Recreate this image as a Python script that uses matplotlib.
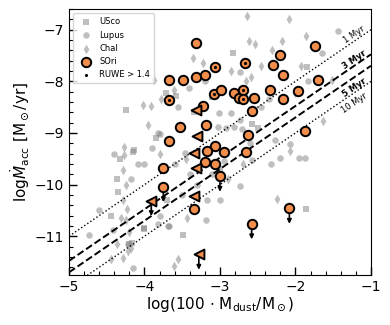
import numpy as np
import matplotlib
matplotlib.use('Agg')
import matplotlib.pyplot as plt
from matplotlib.ticker import MultipleLocator

# --- comparison samples (grey) ---
usco_x = [-2.83, -1.84, -2.57, -1.86, -3.71, -3.58, -4.24, -4.14, -4.32, -4.35, -4.15, -4.37,
          -4.00, -3.49, -4.17, -4.01, -4.20, -3.35, -3.10, -2.50, -3.85, -3.00, -3.70, -4.45]
usco_y = [-7.45, -7.73, -8.82, -10.48, -8.22, -8.29, -8.55, -9.33, -9.51, -10.15, -9.36, -9.90,
          -10.84, -10.97, -11.13, -10.86, -11.15, -8.60, -8.30, -8.90, -9.10, -9.70, -10.30, -10.60]

lupus_x = [-1.43, -1.65, -2.74, -1.83, -2.82, -2.71, -3.03, -2.27, -2.07, -2.73, -2.32, -2.20,
           -1.95, -1.87, -2.57, -3.17, -3.19, -3.41, -3.82, -4.09, -4.00, -4.18, -3.80, -3.46,
           -3.01, -2.86, -2.73, -2.92, -4.74, -4.42, -4.15, -4.22, -3.69, -3.82, -3.67, -3.80,
           -3.60, -3.40, -3.50, -3.30, -3.90, -2.95, -2.60, -2.45, -3.20, -2.35, -3.10, -3.00,
           -4.40, -4.60, -3.55]
lupus_y = [-7.03, -7.45, -7.82, -8.00, -8.89, -8.93, -8.89, -9.13, -9.22, -10.03, -9.61, -9.49,
           -9.49, -9.48, -9.53, -10.29, -10.69, -8.13, -9.00, -9.61, -9.61, -9.90, -9.02, -9.38,
           -8.61, -8.61, -8.74, -8.90, -10.98, -10.87, -11.61, -11.15, -10.80, -10.77, -10.80, -10.60,
           -9.60, -9.80, -10.20, -10.00, -9.30, -9.55, -9.20, -8.50, -8.00, -8.35, -9.80, -10.30,
           -9.40, -10.50, -8.50]

chai_x = [-2.64, -2.08, -1.86, -2.62, -2.54, -2.18, -2.31, -3.22, -2.85, -2.45, -1.93, -2.59,
          -2.66, -3.03, -2.01, -1.52, -1.64, -3.36, -3.87, -3.61, -3.78, -3.91, -4.02, -3.95,
          -2.07, -2.24, -4.27, -4.27, -4.29, -4.24, -4.28, -4.23, -4.31, -4.20, -4.37, -4.44,
          -4.28, -4.22, -3.56, -4.24, -3.44, -3.61, -4.18, -2.70, -2.90, -3.45, -3.80]
chai_y = [-6.74, -6.79, -7.13, -7.21, -7.28, -7.21, -7.40, -7.64, -7.79, -7.71, -7.71, -7.91,
          -8.00, -8.16, -8.22, -7.97, -8.77, -7.55, -7.97, -8.16, -8.35, -8.47, -8.45, -8.84,
          -9.35, -10.27, -9.28, -9.42, -9.71, -10.00, -10.29, -10.48, -10.64, -10.91, -11.16, -11.45,
          -11.42, -11.29, -11.45, -10.68, -10.64, -11.58, -11.22, -9.60, -9.90, -9.50, -9.40]

# --- SOri detections ---
sori_x = [-3.32, -3.07, -2.67, -3.68, -3.49, -3.32, -3.20, -3.68, -3.08, -2.98, -2.82, -2.75,
          -2.69, -2.69, -2.55, -3.23, -2.21, -2.30, -1.74, -2.17, -1.70, -2.34, -1.96, -2.17,
          -2.57, -1.87, -2.63, -3.19, -3.53, -3.68, -3.06, -3.17, -2.95, -2.66, -3.20, -3.07,
          -3.75, -3.35]
sori_y = [-7.26, -7.72, -7.64, -7.97, -7.97, -7.91, -7.88, -8.37, -8.25, -8.16, -8.23, -8.33,
          -8.17, -8.34, -8.32, -8.47, -7.48, -7.69, -7.32, -7.88, -7.97, -8.16, -8.19, -8.34,
          -8.57, -8.97, -9.03, -8.84, -8.89, -9.16, -9.26, -9.35, -9.37, -9.37, -9.57, -9.60,
          -9.68, -10.47]
sori_ruwe = [0, 1, 1, 0, 0, 0, 0, 1, 1, 0, 0, 0,
             1, 1, 0, 0, 0, 0, 0, 0, 0, 0, 0, 0,
             0, 0, 0, 0, 0, 0, 0, 0, 0, 0, 0, 0,
             0, 0]

# SOri upper limits in Macc
sori_ul_x = [-3.00, -3.75, -2.58, -2.08]
sori_ul_y = [-9.84, -10.04, -10.76, -10.46]

# SOri upper limits in Mdust (left triangles); flag = also upper limit in Macc
sori_tri_x = [-3.32, -3.30, -3.34, -3.32, -3.34, -3.91, -3.28]
sori_tri_y = [-8.55, -9.06, -9.39, -9.68, -10.22, -10.31, -11.35]
sori_tri_ul = [0, 0, 0, 0, 0, 1, 1]

# isochrones: log Macc = log Mdisk - log t
ages = [1, 3, 5, 10]
age_styles = [':', '--', '--', ':']
age_bold = [False, True, True, False]
age_above = [True, True, False, False]

orange = '#f28e4b'
grey = 'grey'

fig, ax = plt.subplots(figsize=(3.9, 3.25), dpi=100)
fig.subplots_adjust(left=0.177, right=0.951, bottom=0.154, top=0.972)

ax.scatter(usco_x, usco_y, marker='s', s=20, color=grey, alpha=0.5, lw=0, label='USco', zorder=1)
ax.scatter(lupus_x, lupus_y, marker='o', s=22, color=grey, alpha=0.5, lw=0, label='Lupus', zorder=1)
ax.scatter(chai_x, chai_y, marker='d', s=24, color=grey, alpha=0.5, lw=0, label='ChaI', zorder=1)

xx = np.array([-5, -1])
for age, ls, bold, above in zip(ages, age_styles, age_bold, age_above):
    ax.plot(xx, xx - 6 - np.log10(age), ls=ls, color='k',
            lw=1.4 if ls == '--' else 1.0, zorder=2)
    xt = -1.22
    off = 0.12 if above else -0.2
    ax.text(xt, xt - 6 - np.log10(age) + off, f'{age} Myr', fontsize=6,
            fontweight='bold' if bold else 'normal', rotation=45,
            transform_rotates_text=True, ha='center', va='center',
            rotation_mode='anchor', zorder=3)

# downward arrows for upper limits
arr_x = sori_ul_x + [x for x, f in zip(sori_tri_x, sori_tri_ul) if f]
arr_y = sori_ul_y + [y for y, f in zip(sori_tri_y, sori_tri_ul) if f]
for x, y in zip(arr_x, arr_y):
    ax.annotate('', xy=(x, y - 0.3), xytext=(x, y),
                arrowprops=dict(arrowstyle='-|>', color='k', lw=1.2,
                                mutation_scale=6, shrinkA=0, shrinkB=0), zorder=3)

ax.scatter(sori_x + sori_ul_x, sori_y + sori_ul_y, marker='o', s=46, color=orange,
           edgecolor='k', lw=1.4, label='SOri', zorder=4)
ax.scatter(sori_tri_x, sori_tri_y, marker='<', s=50, color=orange,
           edgecolor='k', lw=1.4, zorder=4)
rx = [x for x, r in zip(sori_x, sori_ruwe) if r]
ry = [y for y, r in zip(sori_y, sori_ruwe) if r]
ax.scatter(rx, ry, marker='o', s=5, color='k', lw=0, label='RUWE > 1.4', zorder=5)

ax.set_xlim(-5, -1)
ax.set_ylim(-11.75, -6.6)
ax.xaxis.set_major_locator(MultipleLocator(1))
ax.xaxis.set_minor_locator(MultipleLocator(0.2))
ax.yaxis.set_major_locator(MultipleLocator(1))
ax.yaxis.set_minor_locator(MultipleLocator(0.2))
ax.tick_params(which='both', direction='in', labelsize=10)
ax.tick_params(which='major', length=6, width=1)
ax.tick_params(which='minor', length=3, width=0.8)

ax.set_xlabel(r'log(100 $\cdot$ M$_{\rm dust}$/M$_\odot$)', fontsize=11, labelpad=1)
ax.set_ylabel(r'log$\dot{M}_{\rm acc}$ [M$_\odot$/yr]', fontsize=11, labelpad=2)

ax.legend(loc='upper left', fontsize=6, frameon=True, borderpad=0.5,
          handletextpad=0.6, labelspacing=0.5, markerscale=1.0)

plt.savefig('out.png', dpi=100)
